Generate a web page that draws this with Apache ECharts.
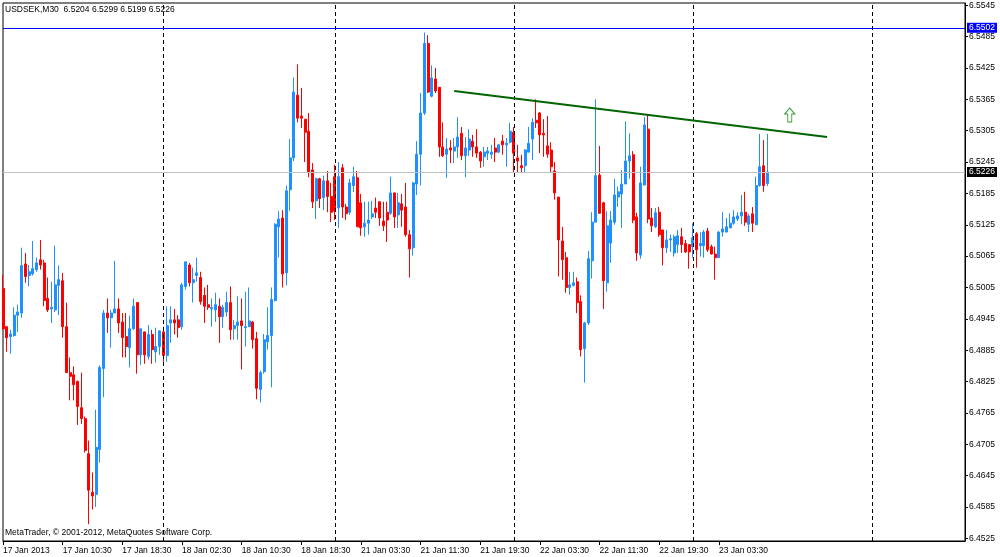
<!DOCTYPE html>
<html><head><meta charset="utf-8">
<script src="https://cdn.jsdelivr.net/npm/echarts@6/dist/echarts.min.js"></script>
<style>html,body{margin:0;padding:0;background:#fff}#c{width:1000px;height:557px}</style>
</head><body><div id="c"></div>
<script>
const symbolName = 'USDSEK,M30';
const copyrightText = 'MetaTrader, \u00A9 2001-2012, MetaQuotes Software Corp.';

// bar sessions (day, first bar minute, number of M30 slots)
const sessionDays = ['17 Jan', '18 Jan', '21 Jan', '22 Jan', '23 Jan', '24 Jan'];
const sessionStartMin = [150, 0, 0, 0, 0, 0];
const sessionBars = [43, 46, 48, 48, 48, 26];

const tickIndex = [0, 16, 32, 48, 64, 80, 96, 112, 128, 144, 160, 176, 192];
const tickLabels = ['17 Jan 2013', '17 Jan 10:30', '17 Jan 18:30', '18 Jan 02:30', '18 Jan 10:30', '18 Jan 18:30',
  '21 Jan 03:30', '21 Jan 11:30', '21 Jan 19:30', '22 Jan 03:30', '22 Jan 11:30', '22 Jan 19:30', '23 Jan 03:30'];

const yTicks = [6.4525, 6.4585, 6.4645, 6.4705, 6.4765, 6.4825, 6.4885, 6.4945, 6.5005,
  6.5065, 6.5125, 6.5185, 6.5245, 6.5305, 6.5365, 6.5425, 6.5485, 6.5545];

const opens = [
  6.5003, 6.4930, 6.4911, 6.4913, 6.4952, 6.4956, 6.5050, 6.5028, 6.5031, 6.5039,
  6.5058, 6.5052, 6.4984, 6.4964, 6.4962, 6.5009, 6.5018, 6.4930, 6.4842, 6.4838,
  6.4825, 6.4775, 6.4754, 6.4687, 6.4613, 6.4609, 6.4695, 6.4850, 6.4956, 6.4947,
  6.4956, 6.4964, 6.4939, 6.4911, 6.4890, 6.4926, 6.4976, 6.4876, 6.4920, 6.4873,
  6.4915, 6.4882, 6.4892, 6.4920, 6.4875, 6.4937, 6.4943, 6.4943, 6.4930, 6.5007,
  6.5048, 6.5014, 6.5028, 6.5024, 6.4990, 6.4972, 6.4964, 6.4962, 6.4969, 6.4949,
  6.4958, 6.4976, 6.4926, 6.4932, 6.4941, 6.4928, 6.4930, 6.4939, 6.4907, 6.4810,
  6.4844, 6.4901, 6.4913, 6.4980, 6.5121, 6.5138, 6.5033, 6.5192, 6.5253, 6.5373,
  6.5333, 6.5327, 6.5304, 6.5230, 6.5171, 6.5213, 6.5177, 6.5209, 6.5179, 6.5217,
  6.5157, 6.5234, 6.5159, 6.5149, 6.5200, 6.5215, 6.5167, 6.5121, 6.5128, 6.5140,
  6.5157, 6.5169, 6.5132, 6.5149, 6.5147, 6.5186, 6.5144, 6.5165, 6.5159, 6.5106,
  6.5081, 6.5203, 6.5260, 6.5339, 6.5472, 6.5371, 6.5404, 6.5388, 6.5274, 6.5260,
  6.5272, 6.5266, 6.5274, 6.5300, 6.5257, 6.5268, 6.5285, 6.5274, 6.5264, 6.5255,
  6.5262, 6.5260, 6.5272, 6.5264, 6.5285, 6.5278, 6.5283, 6.5302, 6.5253, 6.5238,
  6.5238, 6.5264, 6.5289, 6.5325, 6.5339, 6.5300, 6.5276, 6.5268, 6.5228, 6.5178,
  6.5094, 6.5062, 6.5005, 6.5009, 6.5016, 6.4978, 6.4888, 6.4937, 6.5056, 6.5130,
  6.5220, 6.5167, 6.5014, 6.5090, 6.5130, 6.5178, 6.5184, 6.5203, 6.5247, 6.5259,
  6.5140, 6.5067, 6.5201, 6.5308, 6.5138, 6.5121, 6.5149, 6.5115, 6.5081, 6.5096,
  6.5071, 6.5087, 6.5102, 6.5089, 6.5087, 6.5083, 6.5108, 6.5085, 6.5085, 6.5113,
  6.5083, 6.5069, 6.5062, 6.5111, 6.5111, 6.5119, 6.5128, 6.5136, 6.5142, 6.5149,
  6.5126, 6.5146, 6.5125, 6.5200, 6.5238, 6.5204
];
const closes = [
  6.4926, 6.4909, 6.4916, 6.4952, 6.4958, 6.5047, 6.5026, 6.5035, 6.5041, 6.5052,
  6.5048, 6.4980, 6.4962, 6.4967, 6.5010, 6.5020, 6.4930, 6.4842, 6.4835, 6.4819,
  6.4777, 6.4754, 6.4693, 6.4617, 6.4606, 6.4699, 6.4852, 6.4956, 6.4947, 6.4956,
  6.4964, 6.4937, 6.4909, 6.4892, 6.4926, 6.4969, 6.4876, 6.4926, 6.4876, 6.4915,
  6.4886, 6.4892, 6.4922, 6.4875, 6.4932, 6.4943, 6.4937, 6.4928, 6.5010, 6.5054,
  6.5014, 6.5020, 6.5033, 6.4978, 6.4969, 6.4967, 6.4967, 6.4972, 6.4949, 6.4967,
  6.4976, 6.4924, 6.4932, 6.4939, 6.4932, 6.4930, 6.4941, 6.4905, 6.4812, 6.4842,
  6.4905, 6.4913, 6.4982, 6.5126, 6.5136, 6.5031, 6.5190, 6.5253, 6.5379, 6.5329,
  6.5329, 6.5302, 6.5226, 6.5169, 6.5213, 6.5175, 6.5209, 6.5179, 6.5149, 6.5151,
  6.5217, 6.5159, 6.5146, 6.5205, 6.5217, 6.5121, 6.5119, 6.5128, 6.5134, 6.5146,
  6.5149, 6.5138, 6.5123, 6.5134, 6.5186, 6.5140, 6.5167, 6.5153, 6.5106, 6.5079,
  6.5205, 6.5260, 6.5339, 6.5472, 6.5379, 6.5406, 6.5381, 6.5274, 6.5257, 6.5270,
  6.5268, 6.5274, 6.5293, 6.5257, 6.5272, 6.5289, 6.5274, 6.5262, 6.5247, 6.5264,
  6.5266, 6.5264, 6.5264, 6.5278, 6.5278, 6.5281, 6.5304, 6.5262, 6.5247, 6.5234,
  6.5268, 6.5281, 6.5321, 6.5320, 6.5297, 6.5297, 6.5260, 6.5236, 6.5186, 6.5096,
  6.5058, 6.5005, 6.5010, 6.5014, 6.4976, 6.4886, 6.4937, 6.5060, 6.5130, 6.5219,
  6.5147, 6.5018, 6.5123, 6.5134, 6.5182, 6.5188, 6.5203, 6.5247, 6.5257, 6.5134,
  6.5071, 6.5205, 6.5316, 6.5136, 6.5123, 6.5148, 6.5106, 6.5081, 6.5096, 6.5098,
  6.5102, 6.5104, 6.5087, 6.5073, 6.5073, 6.5100, 6.5077, 6.5089, 6.5111, 6.5077,
  6.5069, 6.5062, 6.5111, 6.5117, 6.5121, 6.5128, 6.5140, 6.5142, 6.5149, 6.5130,
  6.5142, 6.5128, 6.5200, 6.5236, 6.5200, 6.5226
];
const lows = [
  6.4924, 6.4882, 6.4878, 6.4911, 6.4920, 6.4947, 6.5014, 6.5007, 6.5028, 6.5035,
  6.5039, 6.4969, 6.4958, 6.4937, 6.4958, 6.4952, 6.4909, 6.4842, 6.4789, 6.4789,
  6.4742, 6.4744, 6.4689, 6.4552, 6.4580, 6.4585, 6.4670, 6.4795, 6.4918, 6.4890,
  6.4956, 6.4918, 6.4871, 6.4871, 6.4852, 6.4924, 6.4840, 6.4857, 6.4859, 6.4867,
  6.4859, 6.4861, 6.4876, 6.4861, 6.4863, 6.4899, 6.4915, 6.4909, 6.4924, 6.5001,
  6.5007, 6.4976, 6.5016, 6.4972, 6.4937, 6.4962, 6.4930, 6.4939, 6.4899, 6.4928,
  6.4949, 6.4905, 6.4905, 6.4905, 6.4848, 6.4892, 6.4930, 6.4888, 6.4791, 6.4785,
  6.4840, 6.4886, 6.4814, 6.4978, 6.5062, 6.5005, 6.5009, 6.5151, 6.5247, 6.5321,
  6.5310, 6.5245, 6.5216, 6.5157, 6.5136, 6.5157, 6.5153, 6.5149, 6.5130, 6.5134,
  6.5119, 6.5138, 6.5134, 6.5144, 6.5188, 6.5121, 6.5104, 6.5102, 6.5106, 6.5136,
  6.5138, 6.5123, 6.5113, 6.5092, 6.5144, 6.5119, 6.5119, 6.5121, 6.5102, 6.5024,
  6.5066, 6.5182, 6.5200, 6.5335, 6.5377, 6.5369, 6.5377, 6.5255, 6.5255, 6.5215,
  6.5243, 6.5243, 6.5253, 6.5249, 6.5216, 6.5257, 6.5255, 6.5253, 6.5234, 6.5236,
  6.5249, 6.5251, 6.5245, 6.5262, 6.5259, 6.5236, 6.5281, 6.5224, 6.5224, 6.5224,
  6.5224, 6.5264, 6.5249, 6.5310, 6.5262, 6.5255, 6.5253, 6.5224, 6.5173, 6.5026,
  6.5020, 6.4995, 6.4991, 6.5007, 6.4956, 6.4873, 6.4823, 6.4933, 6.5022, 6.5130,
  6.5147, 6.4964, 6.4997, 6.5052, 6.5125, 6.5159, 6.5119, 6.5203, 6.5213, 6.5128,
  6.5056, 6.5060, 6.5201, 6.5128, 6.5111, 6.5119, 6.5102, 6.5047, 6.5071, 6.5073,
  6.5064, 6.5071, 6.5071, 6.5071, 6.5041, 6.5062, 6.5043, 6.5064, 6.5062, 6.5073,
  6.5068, 6.5020, 6.5062, 6.5102, 6.5111, 6.5119, 6.5125, 6.5132, 6.5126, 6.5123,
  6.5111, 6.5111, 6.5125, 6.5198, 6.5188, 6.5199
];
const highs = [
  6.5029, 6.4930, 6.4924, 6.4967, 6.4972, 6.5081, 6.5071, 6.5048, 6.5094, 6.5062,
  6.5096, 6.5058, 6.5024, 6.5016, 6.5085, 6.5047, 6.5033, 6.4976, 6.4871, 6.4854,
  6.4827, 6.4842, 6.4758, 6.4712, 6.4651, 6.4771, 6.4856, 6.4962, 6.4984, 6.4962,
  6.5056, 6.4984, 6.4956, 6.4956, 6.4951, 6.4984, 6.4976, 6.4926, 6.4920, 6.4933,
  6.4924, 6.4928, 6.4922, 6.4930, 6.4969, 6.4969, 6.4964, 6.4952, 6.5014, 6.5054,
  6.5052, 6.5043, 6.5062, 6.5035, 6.5005, 6.5010, 6.4984, 6.4995, 6.4984, 6.4972,
  6.4997, 6.5007, 6.4943, 6.4988, 6.4984, 6.4997, 6.5005, 6.4941, 6.4920, 6.4846,
  6.4916, 6.4967, 6.5005, 6.5128, 6.5151, 6.5153, 6.5200, 6.5289, 6.5407, 6.5432,
  6.5387, 6.5327, 6.5339, 6.5243, 6.5215, 6.5215, 6.5219, 6.5228, 6.5205, 6.5240,
  6.5245, 6.5241, 6.5165, 6.5213, 6.5236, 6.5228, 6.5184, 6.5169, 6.5169, 6.5171,
  6.5177, 6.5169, 6.5169, 6.5169, 6.5217, 6.5186, 6.5186, 6.5184, 6.5205, 6.5115,
  6.5207, 6.5285, 6.5377, 6.5493, 6.5488, 6.5430, 6.5425, 6.5388, 6.5321, 6.5291,
  6.5287, 6.5291, 6.5331, 6.5312, 6.5293, 6.5308, 6.5297, 6.5308, 6.5266, 6.5274,
  6.5274, 6.5278, 6.5291, 6.5279, 6.5297, 6.5291, 6.5320, 6.5312, 6.5278, 6.5259,
  6.5270, 6.5312, 6.5329, 6.5365, 6.5341, 6.5327, 6.5333, 6.5283, 6.5245, 6.5178,
  6.5121, 6.5073, 6.5035, 6.5035, 6.5024, 6.4990, 6.4939, 6.5075, 6.5149, 6.5365,
  6.5276, 6.5169, 6.5151, 6.5151, 6.5213, 6.5198, 6.5230, 6.5323, 6.5300, 6.5266,
  6.5148, 6.5236, 6.5331, 6.5335, 6.5157, 6.5157, 6.5159, 6.5115, 6.5115, 6.5106,
  6.5106, 6.5115, 6.5119, 6.5096, 6.5087, 6.5128, 6.5111, 6.5111, 6.5115, 6.5119,
  6.5087, 6.5083, 6.5113, 6.5149, 6.5138, 6.5147, 6.5153, 6.5149, 6.5182, 6.5188,
  6.5146, 6.5159, 6.5217, 6.5299, 6.5287, 6.5299
];

const separatorIdx = [43, 89, 137, 185, 233];
const levelLine = 6.5502;
const trendStart = [121, 6.5381];
const trendEnd = [221, 6.5293];
const arrowPoint = [211, 6.5335];

// ---- build ----
const categories = [];
sessionDays.forEach((d, k) => {
  for (let j = 0; j < sessionBars[k]; j++) {
    const m = sessionStartMin[k] + 30 * j;
    const hh = String(Math.floor(m / 60)).padStart(2, '0');
    const mm = String(m % 60).padStart(2, '0');
    categories.push(d + ' ' + hh + ':' + mm);
  }
});
const candles = opens.map((o, i) => [o, closes[i], lows[i], highs[i]]);
const last = opens.length - 1;
const bidPrice = closes[last];
const titleText = symbolName + '  ' + [opens[last], highs[last], lows[last], closes[last]].map(v => v.toFixed(4)).join(' ');

const FONT = '"Liberation Sans", Arial, sans-serif';
const FS = 8.5;
const chart = echarts.init(document.getElementById('c'), null, {renderer: 'canvas'});

const isTick = (i) => tickIndex.indexOf(i) >= 0;

const option = {
  animation: false,
  backgroundColor: '#ffffff',
  textStyle: {fontFamily: FONT},
  grid: {left: 3, top: 3, width: 962, height: 538, show: true, borderColor: '#000', borderWidth: 1, backgroundColor: '#fff', containLabel: false},
  xAxis: {
    type: 'category', data: categories, boundaryGap: false,
    axisLine: {show: true, lineStyle: {color: '#000', width: 1}},
    axisTick: {show: true, interval: (i) => isTick(i), length: 4, lineStyle: {color: '#000'}},
    axisLabel: {show: true, interval: (i) => isTick(i), formatter: (v, i) => tickLabels[tickIndex.indexOf(i)],
      align: 'left', margin: 5, color: '#000', fontSize: FS, fontFamily: FONT},
    splitLine: {show: false}
  },
  yAxis: {
    type: 'value', position: 'right', min: 6.45198, max: 6.55494, scale: true,
    axisLine: {show: true, lineStyle: {color: '#000', width: 1}},
    axisTick: {show: true, customValues: yTicks, length: 3, lineStyle: {color: '#000'}},
    axisLabel: {show: true, customValues: yTicks, formatter: (v) => Number(v).toFixed(4), margin: 4,
      color: '#000', fontSize: FS, fontFamily: FONT},
    splitLine: {show: false}
  },
  series: [
    {
      type: 'candlestick', data: candles, barWidth: 2.5,
      itemStyle: {color: '#1E90FF', color0: '#FF0000', borderColor: '#1E90FF', borderColor0: '#FF0000', borderWidth: 1},
      markLine: {
        silent: true, symbol: ['none', 'none'], animation: false, precision: 4,
        data: [
          ...separatorIdx.map(i => ({xAxis: categories[i], lineStyle: {color: '#000', type: [4, 3], width: 1}, label: {show: false}})),
          {yAxis: levelLine, lineStyle: {color: '#0000FF', type: 'solid', width: 1},
            label: {show: true, position: 'end', distance: 2, formatter: levelLine.toFixed(4), color: '#fff',
              backgroundColor: '#0000FF', padding: [1, 2, 0, 2], fontSize: FS, fontFamily: FONT}},
          {yAxis: bidPrice, lineStyle: {color: '#C0C0C0', type: 'solid', width: 1},
            label: {show: true, position: 'end', distance: 2, formatter: bidPrice.toFixed(4), color: '#fff',
              backgroundColor: '#000', padding: [1, 2, 0, 2], fontSize: FS, fontFamily: FONT}},
          [
            {coord: [categories[trendStart[0]], trendStart[1]], lineStyle: {color: '#006400', width: 2, type: 'solid'}, label: {show: false}},
            {coord: [categories[trendEnd[0]], trendEnd[1]], lineStyle: {color: '#006400', width: 2, type: 'solid'}, label: {show: false}}
          ]
        ]
      }
    },
    {
      type: 'scatter', silent: true,
      data: [[categories[arrowPoint[0]], arrowPoint[1]]],
      symbol: 'path://M5,0 L10,6 L7,6 L7,14 L3,14 L3,6 L0,6 Z',
      symbolSize: [10, 14],
      itemStyle: {color: '#fff', borderColor: '#008000', borderWidth: 1}
    }
  ],
  graphic: [
    {type: 'text', left: 5, top: 5, z: 100, style: {text: titleText, font: FS + 'px ' + FONT, fill: '#000'}},
    {type: 'text', left: 5, top: 528, z: 100, style: {text: copyrightText, font: FS + 'px ' + FONT, fill: '#000'}}
  ]
};
chart.setOption(option);
</script>
</body></html>
